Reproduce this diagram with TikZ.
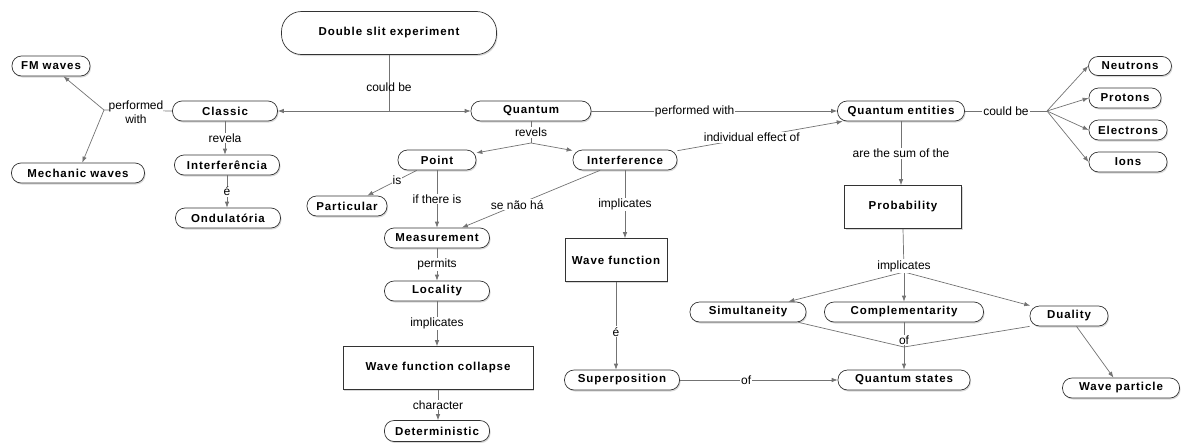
\documentclass[tikz,border=0pt]{standalone}
\usepackage{fontspec}
\setmainfont{Liberation Sans}
\newfontfamily\nodef[LetterSpace=8]{Liberation Sans}
\usetikzlibrary{arrows.meta,shadows,calc}
\definecolor{lnc}{gray}{0.45}
\definecolor{bdc}{gray}{0.2}
\tikzset{
 pill/.style={draw=bdc, line width=0.7pt, rounded corners=9.5pt, minimum height=20pt, inner sep=1pt, fill=white,
   font=\nodef\bfseries\fontsize{11.5}{13}\selectfont,
   drop shadow={shadow xshift=1pt, shadow yshift=-1.5pt, fill=black!30, opacity=0.5}},
 box/.style={pill, rounded corners=0pt, minimum height=43pt},
 lab/.style={font=\fontsize{12}{14}\selectfont, fill=white, inner sep=1pt},
 conn/.style={draw=lnc, line width=0.7pt},
 arr/.style={conn, -{Latex[length=6pt,width=4.5pt]}},
}
\begin{document}
\begin{tikzpicture}[x=1pt,y=-1pt]
\useasboundingbox (0,0) rectangle (1182,442);
% nodes
\node[pill, rounded corners=20pt, minimum width=215pt, minimum height=43pt] (ds) at (389,33) {Double slit experiment};
\node[pill, minimum width=78pt] (fm) at (51,66) {FM waves};
\node[pill, minimum width=133pt] (mech) at (78,173) {Mechanic waves};
\node[pill, minimum width=105pt] (classic) at (225,111) {Classic};
\node[pill, minimum width=105pt] (interf) at (227,165) {Interferência};
\node[pill, minimum width=105pt] (ond) at (228,218) {Ondulatória};
\node[pill, minimum width=120pt] (quantum) at (531,111) {Quantum};
\node[pill, minimum width=78pt] (point) at (437,160) {Point};
\node[pill, minimum width=104pt] (interference) at (625,160) {Interference};
\node[pill, minimum width=80pt] (particular) at (347,206) {Particular};
\node[pill, minimum width=105pt] (measurement) at (437,238) {Measurement};
\node[pill, minimum width=105pt] (locality) at (437,291) {Locality};
\node[box, minimum width=190pt] (wfc) at (438,368) {Wave function collapse};
\node[pill, minimum width=105pt, minimum height=21pt] (determ) at (437,431) {Deterministic};
\node[box, minimum width=102pt] (wf) at (616,260) {Wave function};
\node[pill, minimum width=115pt] (superpos) at (622,380) {Superposition};
\node[pill, minimum width=127pt] (qe) at (901,111) {Quantum entities};
\node[box, minimum width=117pt] (prob) at (903,207) {Probability};
\node[pill, minimum width=116pt] (simul) at (748,312) {Simultaneity};
\node[pill, minimum width=159pt] (compl) at (904,312) {Complementarity};
\node[pill, minimum width=78pt] (duality) at (1069,316) {Duality};
\node[pill, minimum width=132pt] (qstates) at (904,380) {Quantum states};
\node[pill, minimum width=117pt] (wavep) at (1121,388) {Wave particle};
\node[pill, minimum width=83pt, minimum height=19pt] (neutrons) at (1130,66) {Neutrons};
\node[pill, minimum width=72pt] (protons) at (1125,98) {Protons};
\node[pill, minimum width=78pt] (electrons) at (1128,130) {Electrons};
\node[pill, minimum width=78pt] (ions) at (1128,162) {Ions};
% junctions
\coordinate (j1) at (389,111);
\coordinate (jpw) at (104,110);
\coordinate (j2) at (531,143);
\coordinate (j3) at (904,272);
\coordinate (j4) at (904,347);
\coordinate (j5) at (1047,111);
% connectors
\draw[conn] (ds.south) -- node[lab, fill=none, pos=0.57] {could be} (j1);
\draw[arr] (j1) -- (classic.east);
\draw[arr] (j1) -- (quantum.west);
\draw[conn] (classic.west) -- (jpw);
\draw[arr] (jpw) -- (fm);
\draw[arr] (jpw) -- (mech);
\node[lab, align=center, inner sep=0pt] (pwl) at (136,112) {performed\\with};
\draw[arr] (classic.south) -- node[lab] {revela} (classic.south |- interf.north);
\draw[arr] (interf.south) -- node[lab] {é} (interf.south |- ond.north);
\draw[conn] (quantum.south) -- node[lab] {revels} (j2);
\draw[arr] (j2) -- (point);
\draw[arr] (j2) -- (interference);
\draw[arr] (quantum.east) -- node[lab, pos=0.42] {performed with} (qe.west);
\draw[arr] (interference) -- node[lab, pos=0.45] {individual effect of} (qe);
\draw[arr] (point) -- node[lab, pos=0.4] {is} (particular);
\draw[arr] (point.south) -- node[lab] {if there is} (point.south |- measurement.north);
\draw[arr] (interference) -- node[lab, pos=0.6] {se não há} (measurement);
\draw[arr] (measurement.south) -- node[lab] {permits} (measurement.south |- locality.north);
\draw[arr] (locality.south) -- node[lab] {implicates} (locality.south |- wfc.north);
\draw[arr] (wfc.south) -- node[lab] {character} (wfc.south |- determ.north);
\draw[arr] (interference.south) -- node[lab] {implicates} (interference.south |- wf.north);
\draw[arr] (wf.south) -- node[lab, pos=0.57] {é} (wf.south |- superpos.north);
\draw[arr] (superpos.east) -- node[lab, pos=0.42] {of} (qstates.west);
\draw[arr] (qe.south) -- node[lab] {are the sum of the} (qe.south |- prob.north);
\draw[conn] (prob.south) -- (j3);
\draw[arr] (j3) -- (simul);
\draw[arr] (j3) -- (compl.north);
\draw[arr] (j3) -- (duality);
\node[lab] (impl) at (904,266) {implicates};
\draw[conn] ($(simul.south east)+(-8,0)$) -- (j4);
\draw[conn] (compl.south) -- (j4);
\draw[conn] (duality.south west) -- (j4);
\draw[arr] (j4) -- (qstates.north);
\node[lab] (ofl) at (904,340) {of};
\draw[arr] (duality) -- (wavep);
\draw[conn] (qe.east) -- node[lab] {could be} (j5);
\draw[arr] (j5) -- (neutrons.west);
\draw[arr] (j5) -- (protons.west);
\draw[arr] (j5) -- (electrons.west);
\draw[arr] (j5) -- (ions.west);
\end{tikzpicture}
\end{document}
